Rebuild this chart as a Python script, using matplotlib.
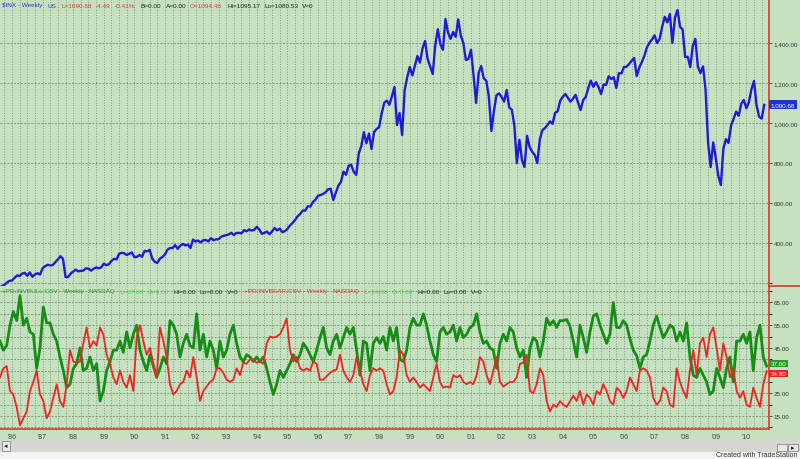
import numpy as np
import matplotlib
matplotlib.use("Agg")
import matplotlib.pyplot as plt
from matplotlib.ticker import MultipleLocator, FixedLocator
from matplotlib.patches import Rectangle
from matplotlib.lines import Line2D

plt.rcParams['font.family'] = ['Liberation Sans', 'DejaVu Sans']

# S&P 500 ($INX), one value per month from Sep 1985 to Aug 2010
sp_start = 1985 + 8 / 12
spx = [184, 190, 202, 211,
       212, 226, 238, 235, 247, 251, 236, 253, 231, 243, 249, 242,
       274, 284, 291, 288, 290, 304, 318, 334, 321, 230, 230, 247,
       257, 267, 258, 261, 262, 273, 272, 262, 271, 278, 273, 278,
       297, 289, 294, 310, 321, 318, 346, 351, 349, 340, 346, 353,
       329, 331, 340, 331, 361, 358, 366, 322, 306, 300, 322, 330,
       343, 367, 375, 375, 389, 371, 387, 395, 388, 392, 375, 417,
       408, 412, 403, 414, 415, 408, 424, 414, 418, 419, 431, 436,
       439, 443, 451, 440, 450, 451, 448, 464, 459, 468, 462, 466,
       481, 467, 446, 451, 457, 444, 458, 475, 463, 472, 454, 459,
       470, 487, 500, 515, 533, 545, 562, 562, 584, 582, 605, 616,
       636, 640, 645, 654, 669, 671, 615, 652, 687, 705, 757, 741,
       786, 791, 757, 740, 848, 885, 954, 899, 947, 870, 955, 970,
       980, 1049, 1102, 1112, 1091, 1134, 1180, 990, 1050, 940, 1164, 1229,
       1280, 1238, 1286, 1335, 1302, 1373, 1410, 1320, 1283, 1245, 1389, 1469,
       1394, 1366, 1520, 1452, 1421, 1455, 1431, 1518, 1437, 1400, 1315, 1320,
       1366, 1240, 1100, 1249, 1285, 1224, 1211, 1134, 960, 1060, 1139, 1148,
       1130, 1107, 1165, 1077, 1067, 990, 800, 916, 815, 780, 936, 880,
       856, 841, 800, 917, 964, 975, 990, 1008, 996, 1051, 1058, 1112,
       1131, 1145, 1126, 1107, 1121, 1141, 1102, 1065, 1115, 1130, 1174, 1212,
       1181, 1204, 1181, 1145, 1192, 1191, 1234, 1220, 1229, 1175, 1249, 1248,
       1280, 1281, 1295, 1311, 1325, 1235, 1277, 1304, 1336, 1378, 1401, 1418,
       1438, 1400, 1421, 1482, 1531, 1503, 1545, 1400, 1527, 1565, 1481, 1468,
       1330, 1331, 1280, 1386, 1420, 1280, 1250, 1283, 1166, 900, 780, 903,
       826, 735, 690, 873, 919, 900, 987, 1021, 1057, 1036, 1096, 1115,
       1074, 1104, 1169, 1210, 1089, 1031, 1022, 1090.68]

# bulls / bears percentages, sampled about every 5.7 weeks
sent_start = 1985.608
sent_step = 0.10893
bulls = [48, 44, 46, 55, 61, 57, 68, 55, 58, 52,
         51, 36, 45, 63, 56, 56, 51, 48, 41, 35,
         27.5, 29, 36, 38, 45, 35, 36, 41, 35, 38,
         21.6, 26, 35, 39, 44, 44, 48, 43, 52, 45,
         51, 55, 44, 39, 35, 42, 37, 32, 36, 41,
         38, 57, 55, 51, 41, 47, 51, 46, 45, 60,
         44, 51, 41, 48, 44, 36, 48, 41, 44, 51,
         55, 47, 41, 39, 42, 41, 39, 41, 39, 41,
         36, 30, 24.5, 29, 35, 32, 35, 38, 42, 39,
         42, 47, 45, 42, 39, 44, 49.5, 54, 45, 42,
         48, 51, 45, 49.5, 54, 51, 54, 44, 33, 48,
         47, 35, 47, 49.5, 47, 50, 44, 54, 48, 54,
         40, 39, 44, 54, 58, 55, 55, 60, 55, 48,
         42, 39, 52, 54, 51, 52, 55, 48, 54, 49.5,
         51, 54, 55, 60, 52, 47, 48, 45, 44, 36,
         47, 51, 48, 54, 52, 45, 41, 44, 32, 45,
         49.5, 48, 41, 48, 58, 55, 57, 54, 57, 57,
         57.5, 54.5, 48, 41, 55, 49.5, 43, 52, 59, 60,
         55, 51, 47, 51, 65, 54, 54, 57, 55, 49,
         44, 41.5, 36, 41, 42, 48, 55, 59, 54, 49.5,
         52, 55, 54, 48, 52, 48, 56, 41, 33, 32,
         36, 33, 30, 24.5, 26, 36, 32, 27.5, 36, 41,
         30, 48, 48, 51, 47, 52, 35, 49.5, 55, 41,
         37]
bears = [32, 36, 37, 26, 24.5, 19, 11, 14, 17, 26,
         30, 35, 24.5, 21.6, 14, 17, 23, 29, 21.6, 19,
         29, 44, 39, 38.5, 39, 47, 54, 45, 48, 46,
         54, 51, 42, 38, 32, 29, 35, 30, 27.5, 33,
         26, 49.5, 55, 48, 42, 45, 38, 32, 54, 48,
         41, 29, 24.5, 26, 29, 30, 35, 32, 41, 32,
         21.6, 26, 28, 30, 31, 36, 36, 34, 31, 30,
         31, 36, 33, 38.5, 38, 40, 40, 38.5, 39, 38,
         47, 50, 49.5, 50, 51, 54, 58, 44, 39, 41,
         36, 35, 36, 35, 39, 38, 31, 31, 32.5, 34,
         35, 35.5, 42, 35, 32, 30, 33, 41, 35, 29,
         26, 33, 36, 35, 36, 35, 29, 24.5, 26, 32,
         44, 42, 33, 30, 32, 30, 27.5, 29, 27.5, 26,
         32, 38, 30, 27.5, 28, 27.5, 33, 32, 33, 30,
         29, 30, 29, 33, 41, 39, 33, 29, 35, 41,
         30, 28, 29, 30, 30, 32, 38, 38.5, 42, 26,
         25, 29, 36, 33, 21.6, 17, 20, 19, 21.6, 20,
         19, 21.5, 24, 21.6, 26, 20, 24.5, 23, 20, 26,
         24.5, 29, 26, 21.6, 20, 27.5, 26, 23, 26, 32,
         29, 26, 35, 36, 35, 32, 23, 20, 21.6, 27.5,
         26, 20, 19, 36, 30, 26, 23, 35, 44, 33,
         47, 49.5, 41, 51, 54, 45, 35, 47, 41, 32,
         36, 26, 23, 26, 20, 19, 27.5, 23, 19, 29,
         34.8]

year_ticks = list(range(1986, 2011))
year_labels = ["'%02d" % (y % 100) for y in year_ticks]
sp_levels = [400, 600, 800, 1000, 1200, 1400]
sent_levels = [15, 25, 45, 55, 65]

sp_dates = sp_start + np.arange(len(spx)) / 12
sent_dates = sent_start + sent_step * np.arange(len(bulls))

W, H = 800, 460
BG = '#c6e1c0'
GRID = '#7f9a7c'
fig = plt.figure(figsize=(8, 4.6), dpi=100, facecolor=BG)


def box(l, t, r, b):
    return [l / W, 1 - b / H, (r - l) / W, (b - t) / H]


ax1 = fig.add_axes(box(0, 0, 769, 287))
ax2 = fig.add_axes(box(0, 288, 769, 430))

for ax in (ax1, ax2):
    ax.set_facecolor(BG)
    ax.set_xlim(1985.608, 2010.74)
    for s in ('top', 'left', 'bottom'):
        ax.spines[s].set_visible(False)
    ax.spines['right'].set_color('#d83a2a')
    ax.spines['right'].set_linewidth(1.2)
    ax.yaxis.tick_right()
    ax.xaxis.set_major_locator(FixedLocator(year_ticks))
    ax.xaxis.set_minor_locator(MultipleLocator(0.25))
    ax.grid(True, which='both', axis='x', color=GRID, linestyle=':', linewidth=0.7)
    ax.tick_params(axis='y', labelsize=4.5, length=2.5, width=0.6, colors='#333333', pad=0.8)
    ax.tick_params(axis='x', which='both', length=0)
ax2.spines['bottom'].set_visible(True)
ax2.spines['bottom'].set_color('#d83a2a')
ax2.spines['bottom'].set_linewidth(1.2)

# upper panel
ax1.plot(sp_dates, spx, color='#1c1cd6', linewidth=1.7)
ax1.set_ylim(185, 1620)
ax1.set_yticks(sp_levels)
ax1.set_yticklabels(['{:,.2f}'.format(v) for v in sp_levels])
ax1.yaxis.set_minor_locator(FixedLocator([200]))
ax1.grid(True, which='both', axis='y', color=GRID, linestyle=(0, (2, 1.5)), linewidth=0.7)
ax1.set_xticklabels([])
ax1.text(1.002, spx[-1], '{:,.2f}'.format(spx[-1]), transform=ax1.get_yaxis_transform(),
         fontsize=4.5, color='white', va='center', ha='left',
         bbox=dict(boxstyle='square,pad=0.3', facecolor='#1f32d8', edgecolor='none'))

# lower panel
ax2.plot(sent_dates, bulls, color='#178c17', linewidth=2.0)
ax2.plot(sent_dates, bears, color='#ee2424', linewidth=1.3)
ax2.set_ylim(9.3, 71.8)
ax2.set_yticks(sent_levels)
ax2.set_yticklabels(['%.2f' % v for v in sent_levels])
ax2.yaxis.set_minor_locator(MultipleLocator(5))
ax2.grid(True, which='both', axis='y', color=GRID, linestyle=(0, (2, 1.5)), linewidth=0.7)
ax2.set_xticklabels(year_labels)
ax2.tick_params(axis='x', labelsize=5, labelcolor='#444444', pad=3)
ax2.text(1.002, bulls[-1], '%.2f' % bulls[-1], transform=ax2.get_yaxis_transform(),
         fontsize=4.5, color='white', va='bottom', ha='left',
         bbox=dict(boxstyle='square,pad=0.2', facecolor='#22a022', edgecolor='none'))
ax2.text(1.002, bears[-1], '%.2f' % bears[-1], transform=ax2.get_yaxis_transform(),
         fontsize=4.5, color='white', va='top', ha='left',
         bbox=dict(boxstyle='square,pad=0.2', facecolor='#ee2020', edgecolor='none'))

# red separator in the price scale strip
fig.add_artist(Line2D([769 / W, 1], [1 - 287 / H, 1 - 287 / H], color='#d83a2a', linewidth=1.2))

renderer = fig.canvas.get_renderer()


def header(x, y, pieces):
    # lay the coloured pieces one after another, like the TradeStation status line
    for s, c, gap in pieces:
        t = fig.text(x / W, 1 - y / H, s, color=c, fontsize=4.6, va='center', ha='left')
        x += t.get_window_extent(renderer).width + gap


BLUE, RED, BLACK, LGREEN, DGREEN = '#2a36c8', '#e03a30', '#222222', '#4ed24e', '#2e9a2e'
header(2, 6, [('$INX - Weekly', BLUE, 5), ('US', BLUE, 5), ('L=1090.68', RED, 4),
              ('-4.49', RED, 4), ('-0.41%', RED, 6), ('B=0.00', BLACK, 4),
              ('A=0.00', BLACK, 4), ('O=1094.46', RED, 5), ('Hi=1095.17', BLACK, 4),
              ('Lo=1080.53', BLACK, 4), ('V=0', BLACK, 0)])
header(2, 292, [('+PD:INVBULL.CSV - Weekly', DGREEN, 5), ('NASDAQ', DGREEN, 5),
                ('L=37.00', LGREEN, 4), ('O=0.00', LGREEN, 4), ('Hi=0.00', BLACK, 4),
                ('Lo=0.00', BLACK, 4), ('V=0', BLACK, 6),
                ('+PD:INVBEAR.CSV - Weekly', RED, 5), ('NASDAQ', RED, 5),
                ('L=34.80', LGREEN, 4), ('O=0.00', LGREEN, 4), ('Hi=0.00', BLACK, 4),
                ('Lo=0.00', BLACK, 4), ('V=0', BLACK, 0)])

# scroll bar strip and footer
fig.add_artist(Rectangle((0, 0), 1, 1 - 441 / H, transform=fig.transFigure,
                         facecolor='#f4f4f4', edgecolor='none'))
fig.add_artist(Rectangle((0, 1 - 453 / H), 1, 12 / H, transform=fig.transFigure,
                         facecolor='#d8d6d0', edgecolor='none'))
fig.add_artist(Rectangle((2 / W, 1 - 452 / H), 8 / W, 10 / H, transform=fig.transFigure,
                         facecolor='#e8e8e8', edgecolor='#888888', linewidth=0.6))
fig.text(6 / W, 1 - 447 / H, '◂', fontsize=5, ha='center', va='center', color='#222222')
fig.add_artist(Rectangle((777 / W, 1 - 452 / H), 10 / W, 7 / H, transform=fig.transFigure,
                         facecolor='#e8e8e8', edgecolor='#888888', linewidth=0.6))
fig.add_artist(Rectangle((788 / W, 1 - 452 / H), 10 / W, 7 / H, transform=fig.transFigure,
                         facecolor='#e8e8e8', edgecolor='#888888', linewidth=0.6))
fig.text(793 / W, 1 - 448.5 / H, '▸', fontsize=5, ha='center', va='center', color='#222222')
fig.text(798 / W, 1 - 456 / H, 'Created with TradeStation', fontsize=5, ha='right',
         va='center', color='#333333')

fig.savefig('out.png', dpi=100, facecolor=BG)
